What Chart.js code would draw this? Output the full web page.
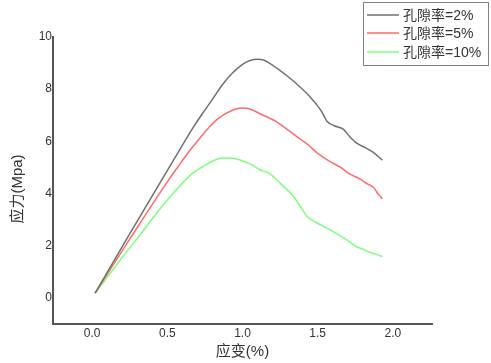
<!DOCTYPE html>
<html>
<head>
<meta charset="utf-8">
<script src="https://cdn.jsdelivr.net/npm/chart.js@4"></script>
<style>
  html, body { margin: 0; padding: 0; background: #fff; }
  #wrap { width: 491px; height: 363px; }
</style>
</head>
<body>
<div id="wrap"><canvas id="myChart" width="491" height="363"></canvas></div>
<script>
// strain (%) / stress (MPa)
const strain2 = [0.02, 0.25, 0.50, 0.60, 0.68, 0.75, 0.81, 0.87, 0.93, 1.00, 1.05, 1.10, 1.14, 1.23, 1.33, 1.45, 1.52, 1.54, 1.56, 1.61, 1.67, 1.71, 1.76, 1.82, 1.87, 1.93]
const stress2 = [0.18, 2.45, 4.88, 5.85, 6.60, 7.20, 7.70, 8.20, 8.60, 8.95, 9.10, 9.15, 9.12, 8.80, 8.35, 7.70, 7.20, 7.00, 6.78, 6.60, 6.47, 6.20, 5.93, 5.75, 5.58, 5.28]

const strain5 = [0.02, 0.25, 0.50, 0.58, 0.65, 0.72, 0.78, 0.84, 0.90, 0.96, 1.00, 1.05, 1.12, 1.23, 1.32, 1.38, 1.44, 1.49, 1.58, 1.65, 1.71, 1.78, 1.83, 1.87, 1.90, 1.93]
const stress5 = [0.18, 2.25, 4.45, 5.10, 5.65, 6.15, 6.55, 6.88, 7.10, 7.25, 7.28, 7.24, 7.05, 6.74, 6.36, 6.10, 5.85, 5.59, 5.23, 5.01, 4.76, 4.56, 4.37, 4.24, 4.00, 3.80]

const strain10 = [0.02, 0.20, 0.33, 0.45, 0.53, 0.60, 0.67, 0.74, 0.80, 0.87, 0.93, 1.00, 1.07, 1.11, 1.18, 1.25, 1.33, 1.38, 1.43, 1.48, 1.52, 1.60, 1.65, 1.70, 1.76, 1.80, 1.85, 1.90, 1.93]
const stress10 = [0.18, 1.55, 2.50, 3.40, 3.95, 4.40, 4.78, 5.05, 5.24, 5.36, 5.35, 5.25, 5.08, 4.93, 4.76, 4.40, 3.95, 3.55, 3.12, 2.92, 2.80, 2.55, 2.38, 2.20, 1.96, 1.87, 1.74, 1.65, 1.58]

const seriesLabels = ['孔隙率=2%', '孔隙率=5%', '孔隙率=10%']
const seriesColors = ['#707070', '#ff6b6b', '#7dff7d']

const xTicks = [0, 0.5, 1.0, 1.5, 2.0]
const yTicks = [0, 2, 4, 6, 8, 10]
const xTitle = '应变(%)'
const yTitle = '应力(Mpa)'

const toPoints = (xs, ys) => xs.map((x, i) => ({ x: x, y: ys[i] }))

const fontFamily = '"Liberation Sans", Arial, "Noto Sans CJK SC"'
const tickFont = { family: fontFamily, size: 12 }

// legend box + axis titles, drawn by hand
const extras = {
  id: 'extras',
  afterDraw(chart) {
    const ctx = chart.ctx
    const area = chart.chartArea
    ctx.save()

    ctx.strokeStyle = '#808080'
    ctx.lineWidth = 1
    ctx.strokeRect(363.5, 2.5, 125, 63)
    ctx.font = '14px ' + fontFamily
    ctx.textBaseline = 'middle'
    ctx.textAlign = 'left'
    const rows = [15, 33, 52]
    chart.data.datasets.forEach((ds, i) => {
      ctx.strokeStyle = ds.borderColor
      ctx.lineWidth = 1.5
      ctx.beginPath()
      ctx.moveTo(367, rows[i])
      ctx.lineTo(399, rows[i])
      ctx.stroke()
      ctx.fillStyle = '#333'
      ctx.fillText(ds.label, 403, rows[i] + 1)
    })

    ctx.fillStyle = '#333'
    ctx.font = '15px ' + fontFamily
    ctx.textAlign = 'center'
    ctx.fillText(xTitle, (area.left + area.right) / 2, 352)

    ctx.translate(18, 189)
    ctx.rotate(-Math.PI / 2)
    ctx.fillText(yTitle, 0, 0)
    ctx.restore()
  }
}

const ctx = document.getElementById('myChart')
new Chart(ctx, {
  type: 'line',
  data: {
    datasets: [
      { label: seriesLabels[0], data: toPoints(strain2, stress2), borderColor: seriesColors[0] },
      { label: seriesLabels[1], data: toPoints(strain5, stress5), borderColor: seriesColors[1] },
      { label: seriesLabels[2], data: toPoints(strain10, stress10), borderColor: seriesColors[2] }
    ]
  },
  options: {
    responsive: false,
    animation: false,
    layout: { padding: { top: 37, right: 59, left: 0, bottom: 0 } },
    elements: {
      point: { radius: 0 },
      line: { borderWidth: 1.5, cubicInterpolationMode: 'monotone', fill: false }
    },
    plugins: {
      legend: { display: false },
      tooltip: { enabled: false }
    },
    scales: {
      x: {
        type: 'linear',
        min: -0.26,
        max: 2.26,
        grid: { display: false, drawTicks: false },
        border: { display: true, color: '#555', width: 2 },
        afterBuildTicks: s => { s.ticks = xTicks.map(v => ({ value: v })) },
        afterFit: s => { s.height = 39 },
        ticks: {
          color: '#333',
          font: tickFont,
          padding: 2,
          maxRotation: 0,
          callback: v => Number(v).toFixed(1)
        }
      },
      y: {
        type: 'linear',
        min: -1,
        max: 10,
        grid: { display: false, drawTicks: false },
        border: { display: true, color: '#555', width: 2 },
        afterBuildTicks: s => { s.ticks = yTicks.map(v => ({ value: v })) },
        afterFit: s => { s.width = 53 },
        ticks: {
          color: '#333',
          font: tickFont,
          padding: 1,
          callback: v => String(v)
        }
      }
    }
  },
  plugins: [extras]
})
</script>
</body>
</html>
